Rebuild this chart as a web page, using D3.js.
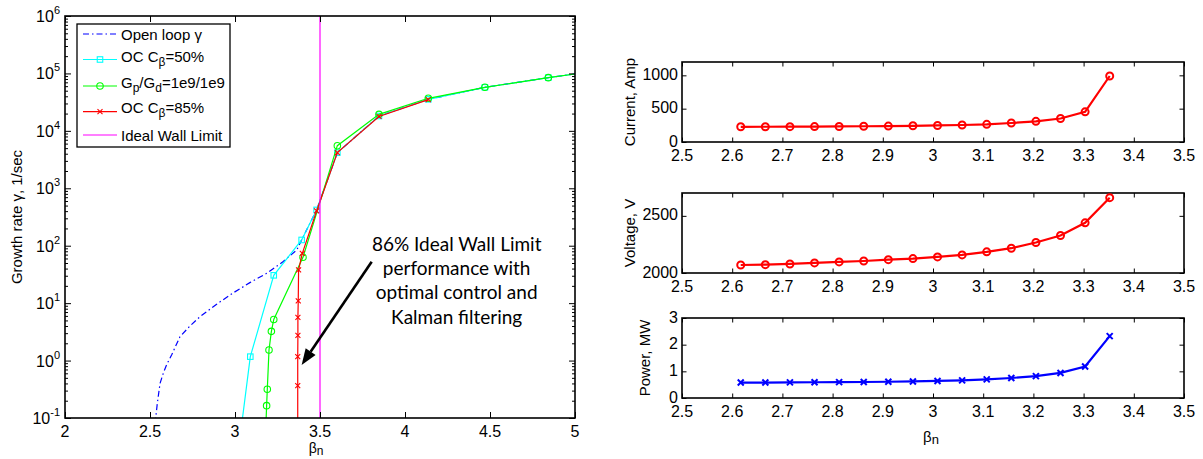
<!DOCTYPE html>
<html><head><meta charset="utf-8">
<script src="https://cdn.jsdelivr.net/npm/d3@7"></script>
<style>
body{margin:0;background:#fff}
svg text{font-family:"Liberation Sans",Arial,Helvetica,sans-serif;fill:#000}
</style>
</head><body>
<svg id="c" width="1203" height="459"></svg>
<script>
// ---------------- data: left panel (growth rate vs beta_n) ----------------
const openLoopBeta  = [2.530, 2.543, 2.559, 2.578, 2.598, 2.627, 2.676, 2.735, 2.794, 2.890, 2.988, 3.090, 3.186, 3.280, 3.363, 3.392, 3.480, 3.602, 3.847, 4.137, 4.470, 4.843, 5.000];
const openLoopGamma = [0.08, 0.18, 0.40, 0.60, 0.85, 1.25, 2.6, 4.0, 5.8, 9.5, 15, 23, 33, 52, 84, 126, 420, 4170, 18150, 35400, 57300, 84400, 97700];

const oc50Beta  = [3.040, 3.090, 3.228, 3.392, 3.480, 3.602, 3.847, 4.137, 4.470, 4.843, 5.000];
const oc50Gamma = [0.08, 1.17, 30.5, 126, 420, 4170, 18150, 35400, 57300, 84400, 97700];

const gpgdBeta  = [3.182, 3.186, 3.190, 3.200, 3.214, 3.228, 3.400, 3.602, 3.847, 4.137, 4.470, 4.843, 5.000];
const gpgdGamma = [0.08, 0.164, 0.316, 1.53, 3.23, 5.2, 62.8, 5520, 19400, 36900, 57300, 84400, 97700];

const oc85Beta  = [3.369, 3.369, 3.369, 3.370, 3.370, 3.372, 3.374, 3.396, 3.480, 3.602, 3.847, 4.137];
const oc85Gamma = [0.08, 0.366, 1.17, 2.75, 5.67, 11, 37.8, 73.8, 403, 4170, 17800, 35000];

const idealWallBeta  = [3.5, 3.5];
const idealWallGamma = [0.1, 1e6];

const leftXTicks   = [2, 2.5, 3, 3.5, 4, 4.5, 5];
const leftXLabels  = ["2", "2.5", "3", "3.5", "4", "4.5", "5"];
const leftYExps    = [-1, 0, 1, 2, 3, 4, 5, 6];

const legendLabels = ["Open loop γ", "OC Cβ=50%", "Gp/Gd=1e9/1e9", "OC Cβ=85%", "Ideal Wall Limit"];
const annotationLines = ["86% Ideal Wall Limit", "performance with", "optimal control and", "Kalman filtering"];

// ---------------- data: right panels ----------------
const ctrlBeta = [2.617, 2.666, 2.715, 2.764, 2.813, 2.862, 2.911, 2.960, 3.009, 3.058, 3.107, 3.156, 3.205, 3.254, 3.303, 3.352];
const currentAmp = [228, 229, 230, 231, 233, 236, 239, 243, 248, 255, 265, 285, 310, 352, 452, 990];
const voltageV  = [2070, 2073, 2079, 2088, 2097, 2105, 2117, 2126, 2141, 2158, 2185, 2217, 2267, 2328, 2439, 2659];
const powerMW   = [0.58, 0.58, 0.585, 0.59, 0.595, 0.60, 0.61, 0.62, 0.64, 0.66, 0.70, 0.75, 0.82, 0.94, 1.18, 2.32];

const rightXTicks  = [2.5, 2.6, 2.7, 2.8, 2.9, 3.0, 3.1, 3.2, 3.3, 3.4, 3.5];
const rightXLabels = ["2.5", "2.6", "2.7", "2.8", "2.9", "3", "3.1", "3.2", "3.3", "3.4", "3.5"];
const currentTicks = [0, 500, 1000];
const voltageTicks = [2000, 2500];
const powerTicks   = [0, 1, 2, 3];

// ---------------- drawing ----------------
const svg = d3.select("#c");
const zip = (a, b) => a.map((v, i) => [v, b[i]]);

function marker(g, type, cx, cy, color, size, sw) {
  if (type === "square") {
    g.append("rect").attr("x", cx - size / 2).attr("y", cy - size / 2)
      .attr("width", size).attr("height", size)
      .attr("fill", "none").attr("stroke", color).attr("stroke-width", sw);
  } else if (type === "circle") {
    g.append("circle").attr("cx", cx).attr("cy", cy).attr("r", size / 2)
      .attr("fill", "none").attr("stroke", color).attr("stroke-width", sw);
  } else if (type === "x") {
    const h = size / 2;
    g.append("path").attr("d", `M${cx - h},${cy - h}L${cx + h},${cy + h}M${cx - h},${cy + h}L${cx + h},${cy - h}`)
      .attr("stroke", color).attr("stroke-width", sw).attr("fill", "none");
  }
}

// ===== LEFT PANEL =====
const LX0 = 65, LX1 = 575, LY0 = 16, LY1 = 418;
const xL = d3.scaleLinear().domain([2, 5]).range([LX0, LX1]);
const yL = d3.scaleLog().domain([0.1, 1e6]).range([LY1, LY0]);

svg.append("clipPath").attr("id", "clipL").append("rect")
  .attr("x", LX0).attr("y", LY0).attr("width", LX1 - LX0).attr("height", LY1 - LY0);

const gL = svg.append("g");
const plotL = gL.append("g").attr("clip-path", "url(#clipL)");
const lineL = d3.line().x(d => xL(d[0])).y(d => yL(d[1]));

const leftSeries = [
  { b: openLoopBeta, g: openLoopGamma, color: "#0000ff", dash: "6,3,1.5,3", mk: null },
  { b: oc50Beta, g: oc50Gamma, color: "#00ffff", dash: null, mk: "square", ms: 5.5 },
  { b: gpgdBeta, g: gpgdGamma, color: "#00ff00", dash: null, mk: "circle", ms: 6.5 },
  { b: oc85Beta, g: oc85Gamma, color: "#ff0000", dash: null, mk: "x", ms: 5 },
  { b: idealWallBeta, g: idealWallGamma, color: "#ff00ff", dash: null, mk: null }
];
leftSeries.forEach(s => {
  const pts = zip(s.b, s.g);
  plotL.append("path").attr("d", lineL(pts)).attr("fill", "none")
    .attr("stroke", s.color).attr("stroke-width", 1.2)
    .attr("stroke-dasharray", s.dash);
  if (s.mk) {
    const mg = plotL.append("g");
    pts.filter(p => p[1] > 0.1 && p[0] < 5).forEach(p =>
      marker(mg, s.mk, xL(p[0]), yL(p[1]), s.color, s.ms, 1.1));
  }
});

// ticks (inward, all four sides)
const majorY = leftYExps.map(e => Math.pow(10, e));
const minorY = yL.ticks().filter(v => !majorY.some(m => Math.abs(m - v) / v < 1e-6));
function noDomain(sel) { sel.select(".domain").remove(); sel.selectAll("text").remove(); sel.selectAll("line").attr("stroke", "#000"); }
gL.append("g").attr("transform", `translate(0,${LY1})`)
  .call(d3.axisBottom(xL).tickValues(leftXTicks).tickSizeInner(-6).tickSizeOuter(0)).call(noDomain);
gL.append("g").attr("transform", `translate(0,${LY0})`)
  .call(d3.axisTop(xL).tickValues(leftXTicks).tickSizeInner(-6).tickSizeOuter(0)).call(noDomain);
gL.append("g").attr("transform", `translate(${LX0},0)`)
  .call(d3.axisLeft(yL).tickValues(majorY).tickSizeInner(-6).tickSizeOuter(0)).call(noDomain);
gL.append("g").attr("transform", `translate(${LX0},0)`)
  .call(d3.axisLeft(yL).tickValues(minorY).tickSizeInner(-3).tickSizeOuter(0)).call(noDomain);
gL.append("g").attr("transform", `translate(${LX1},0)`)
  .call(d3.axisRight(yL).tickValues(majorY).tickSizeInner(-6).tickSizeOuter(0)).call(noDomain);
gL.append("g").attr("transform", `translate(${LX1},0)`)
  .call(d3.axisRight(yL).tickValues(minorY).tickSizeInner(-3).tickSizeOuter(0)).call(noDomain);

gL.append("rect").attr("x", LX0).attr("y", LY0).attr("width", LX1 - LX0).attr("height", LY1 - LY0)
  .attr("fill", "none").attr("stroke", "#000").attr("stroke-width", 1.6);

// tick labels
gL.selectAll("text.xl").data(leftXTicks).join("text").attr("class", "xl")
  .attr("x", d => xL(d)).attr("y", LY1 + 19).attr("text-anchor", "middle")
  .attr("font-size", 16).text((d, i) => leftXLabels[i]);
leftYExps.forEach(e => {
  const t = gL.append("text").attr("x", LX0 - 5).attr("y", yL(Math.pow(10, e)) + 6)
    .attr("text-anchor", "end").attr("font-size", 16);
  t.append("tspan").text("10");
  t.append("tspan").attr("dy", -8).attr("font-size", 11).text(String(e));
});

// axis labels
gL.append("text").attr("transform", `translate(22,${(LY0 + LY1) / 2}) rotate(-90)`)
  .attr("text-anchor", "middle").attr("font-size", 15).text("Growth rate γ, 1/sec");
const xlab = gL.append("text").attr("x", (LX0 + LX1) / 2 - 4).attr("y", LY1 + 35)
  .attr("text-anchor", "middle").attr("font-size", 14);
xlab.append("tspan").text("β");
xlab.append("tspan").attr("dy", 1.5).attr("font-size", 12).text("n");

// legend
const lg = gL.append("g");
lg.append("rect").attr("x", 77).attr("y", 24).attr("width", 153).attr("height", 123)
  .attr("fill", "#fff").attr("stroke", "#000").attr("stroke-width", 1.3);
const rowLineY = [34, 59.5, 86, 111.7, 135];
const rowBase  = [39.5, 61.5, 87.5, 113.3, 140.5];
leftSeries.forEach((s, i) => {
  lg.append("line").attr("x1", 83).attr("x2", 117).attr("y1", rowLineY[i]).attr("y2", rowLineY[i])
    .attr("stroke", s.color).attr("stroke-width", 1.2).attr("stroke-dasharray", s.dash);
  if (s.mk) marker(lg, s.mk, 100, rowLineY[i], s.color, s.ms, 1.1);
  const t = lg.append("text").attr("x", 121).attr("y", rowBase[i]).attr("font-size", 15);
  const lab = legendLabels[i];
  if (i === 1 || i === 3) {
    const parts = lab.split("β");
    t.append("tspan").text(parts[0]);
    t.append("tspan").attr("dy", 4).attr("font-size", 12).text("β");
    t.append("tspan").attr("dy", -4).text(parts[1]);
  } else if (i === 2) {
    t.append("tspan").text("G");
    t.append("tspan").attr("dy", 4).attr("font-size", 12).text("p");
    t.append("tspan").attr("dy", -4).text("/G");
    t.append("tspan").attr("dy", 4).attr("font-size", 12).text("d");
    t.append("tspan").attr("dy", -4).text("=1e9/1e9");
  } else {
    t.text(lab);
  }
});

// annotation
const annFrom = [3.804, 52.7], annTo = [3.392, 0.84];
const ax0 = xL(annFrom[0]), ay0 = yL(annFrom[1]), ax1 = xL(annTo[0]), ay1 = yL(annTo[1]);
const ang = Math.atan2(ay1 - ay0, ax1 - ax0), hl = 16, hw = 6;
const bx = ax1 - hl * Math.cos(ang), by = ay1 - hl * Math.sin(ang);
gL.append("line").attr("x1", ax0).attr("y1", ay0).attr("x2", bx).attr("y2", by)
  .attr("stroke", "#000").attr("stroke-width", 2.6);
gL.append("path").attr("d",
  `M${ax1},${ay1}L${bx + hw * Math.sin(ang)},${by - hw * Math.cos(ang)}L${bx - hw * Math.sin(ang)},${by + hw * Math.cos(ang)}Z`)
  .attr("fill", "#000");
const annText = gL.append("text").attr("text-anchor", "middle")
  .attr("font-size", 19).style("font-family", "Lato, 'Open Sans', sans-serif");
annotationLines.forEach((l, i) => {
  annText.append("tspan").attr("x", xL(4.304)).attr("y", yL(81.8) + i * 24.3).text(l);
});

// ===== RIGHT PANELS =====
const RX0 = 682, RX1 = 1184;
const xR = d3.scaleLinear().domain([2.5, 3.5]).range([RX0, RX1]);

function panel(cfg) {
  const g = svg.append("g");
  const y = d3.scaleLinear().domain(cfg.domain).range([cfg.y1, cfg.y0]);
  const ax = (gen, tr, vals) => g.append("g").attr("transform", tr)
    .call(gen.tickValues(vals).tickSizeInner(-4.5).tickSizeOuter(0)).call(noDomain);
  ax(d3.axisBottom(xR), `translate(0,${cfg.y1})`, rightXTicks);
  ax(d3.axisTop(xR), `translate(0,${cfg.y0})`, rightXTicks);
  ax(d3.axisLeft(y), `translate(${RX0},0)`, cfg.ticks);
  ax(d3.axisRight(y), `translate(${RX1},0)`, cfg.ticks);
  g.append("rect").attr("x", RX0).attr("y", cfg.y0).attr("width", RX1 - RX0).attr("height", cfg.y1 - cfg.y0)
    .attr("fill", "none").attr("stroke", "#000").attr("stroke-width", 1.6);
  const pts = zip(ctrlBeta, cfg.values);
  g.append("path").attr("d", d3.line().x(d => xR(d[0])).y(d => y(d[1]))(pts))
    .attr("fill", "none").attr("stroke", cfg.color).attr("stroke-width", 2.2);
  pts.forEach(p => marker(g, cfg.mk, xR(p[0]), y(p[1]), cfg.color, cfg.mk === "circle" ? 7 : 6, 2));
  g.selectAll("text.xr").data(rightXTicks).join("text").attr("class", "xr")
    .attr("x", d => xR(d)).attr("y", cfg.y1 + 19).attr("text-anchor", "middle")
    .attr("font-size", 16).text((d, i) => rightXLabels[i]);
  g.selectAll("text.yr").data(cfg.ticks).join("text").attr("class", "yr")
    .attr("x", RX0 - 4).attr("y", d => y(d) + 4.5).attr("text-anchor", "end")
    .attr("font-size", 16).text(d => String(d));
  g.append("text").attr("transform", `translate(${cfg.labelX},${(cfg.y0 + cfg.y1) / 2}) rotate(-90)`)
    .attr("text-anchor", "middle").attr("dy", "0.35em").attr("font-size", 15).text(cfg.label);
}
panel({ y0: 62, y1: 142, domain: [0, 1200], ticks: currentTicks, values: currentAmp, color: "#ff0000", mk: "circle", label: "Current, Amp", labelX: 630 });
panel({ y0: 193, y1: 273, domain: [2000, 2700], ticks: voltageTicks, values: voltageV, color: "#ff0000", mk: "circle", label: "Voltage, V", labelX: 630 });
panel({ y0: 318, y1: 398, domain: [0, 3], ticks: powerTicks, values: powerMW, color: "#0000ff", mk: "x", label: "Power, MW", labelX: 645 });

const xlabR = svg.append("text").attr("x", xR(3.0) - 2).attr("y", 442)
  .attr("text-anchor", "middle").attr("font-size", 15);
xlabR.append("tspan").text("β");
xlabR.append("tspan").attr("dy", 2).attr("font-size", 13).text("n");
</script>
</body></html>
